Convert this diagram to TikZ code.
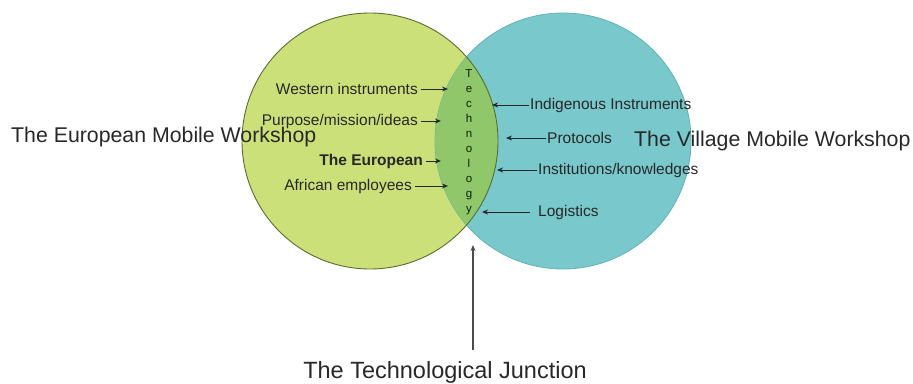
\documentclass[tikz,border=0pt]{standalone}
\usepackage{fontspec}
\setmainfont{Liberation Sans}
\usepackage{tikz}
\usetikzlibrary{calc,arrows.meta}
\definecolor{leftfill}{RGB}{204,224,122}
\definecolor{rightfill}{RGB}{120,200,204}
\definecolor{lensfill}{RGB}{143,199,106}
\definecolor{leftline}{RGB}{88,110,50}
\definecolor{rightline}{RGB}{100,178,182}
\definecolor{labeltext}{RGB}{40,40,40}
\tikzset{>=stealth,
  lbl/.style={text=labeltext,font=\fontsize{15.5}{18}\selectfont,inner sep=3pt},
  big/.style={text=labeltext,font=\fontsize{21.3}{25}\selectfont,inner sep=0pt},
  pointer/.style={-{Stealth[length=6pt,width=5pt]},line width=1pt,black!85}}

\begin{document}
\begin{tikzpicture}[x=1pt,y=-1pt]
    \useasboundingbox (0,0) rectangle (913,383);

    % the two workshops and the junction between them
    \coordinate (lc) at (370,141);
    \coordinate (rc) at (563,141);
    \fill[leftfill] (lc) circle (128pt);
    \draw[rightline,line width=0.8pt,fill=rightfill] (rc) circle (128pt);
    \begin{scope}
      \clip (lc) circle (128pt);
      \fill[lensfill] (rc) circle (128pt);
    \end{scope}
    \draw[leftline,line width=0.9pt] (lc) circle (128pt);

    \node[text=labeltext!80!green!40!black,font=\fontsize{11.5}{15}\selectfont,align=center,inner sep=0pt] at (469,142) (tech)
      {T\\e\\c\\h\\n\\o\\l\\o\\g\\y};

    % left side
    \node[lbl,anchor=east] at (421,89)  (west) {Western instruments};
    \node[lbl,anchor=east] at (421,121) (purp) {Purpose/mission/ideas};
    \node[lbl,anchor=east,font=\fontsize{15.5}{18}\selectfont\bfseries] at (426,161) (euro) {The European};
    \node[lbl,anchor=east] at (415,186) (afr)  {African employees};
    \coordinate (westtip) at (448,89);
    \coordinate (purptip) at (441,121);
    \coordinate (eurotip) at (441,161);
    \coordinate (afrtip)  at (448,186);
    \draw[pointer] (west.east)--(westtip);
    \draw[pointer] (purp.east)--(purptip);
    \draw[pointer] (euro.east)--(eurotip);
    \draw[pointer] (afr.east)--(afrtip);

    % right side
    \node[lbl,anchor=west,inner sep=1pt] at (529,105) (indi) {Indigenous Instruments};
    \node[lbl,anchor=west,inner sep=1pt] at (546,138) (prot) {Protocols};
    \node[lbl,anchor=west,inner sep=1pt] at (537,170) (inst) {Institutions/knowledges};
    \node[lbl,anchor=west,inner sep=1pt] at (537,212) (logi) {Logistics};
    \coordinate (inditip) at (492,105);
    \coordinate (prottip) at (506,138);
    \coordinate (insttip) at (497,170);
    \coordinate (logitip) at (482,212);
    \draw[pointer] (indi.west)--(inditip);
    \draw[pointer] (prot.west)--(prottip);
    \draw[pointer] (inst.west)--(insttip);
    \draw[pointer] ([xshift=-7pt]logi.west)--(logitip);

    % titles
    \node[big,anchor=west] at (11,137) (eumw) {The European Mobile Workshop};
    \node[big,anchor=west] at (634,141) (vimw) {The Village Mobile Workshop};
    \node[big,font=\fontsize{23.5}{27}\selectfont,inner ysep=11pt] at (445,372) (junc) {The Technological Junction};
    \coordinate (junctip) at (473,245);
    \draw[pointer,line width=1.2pt,black!70] (junc.north -| junctip)--(junctip);
\end{tikzpicture}
\end{document}
